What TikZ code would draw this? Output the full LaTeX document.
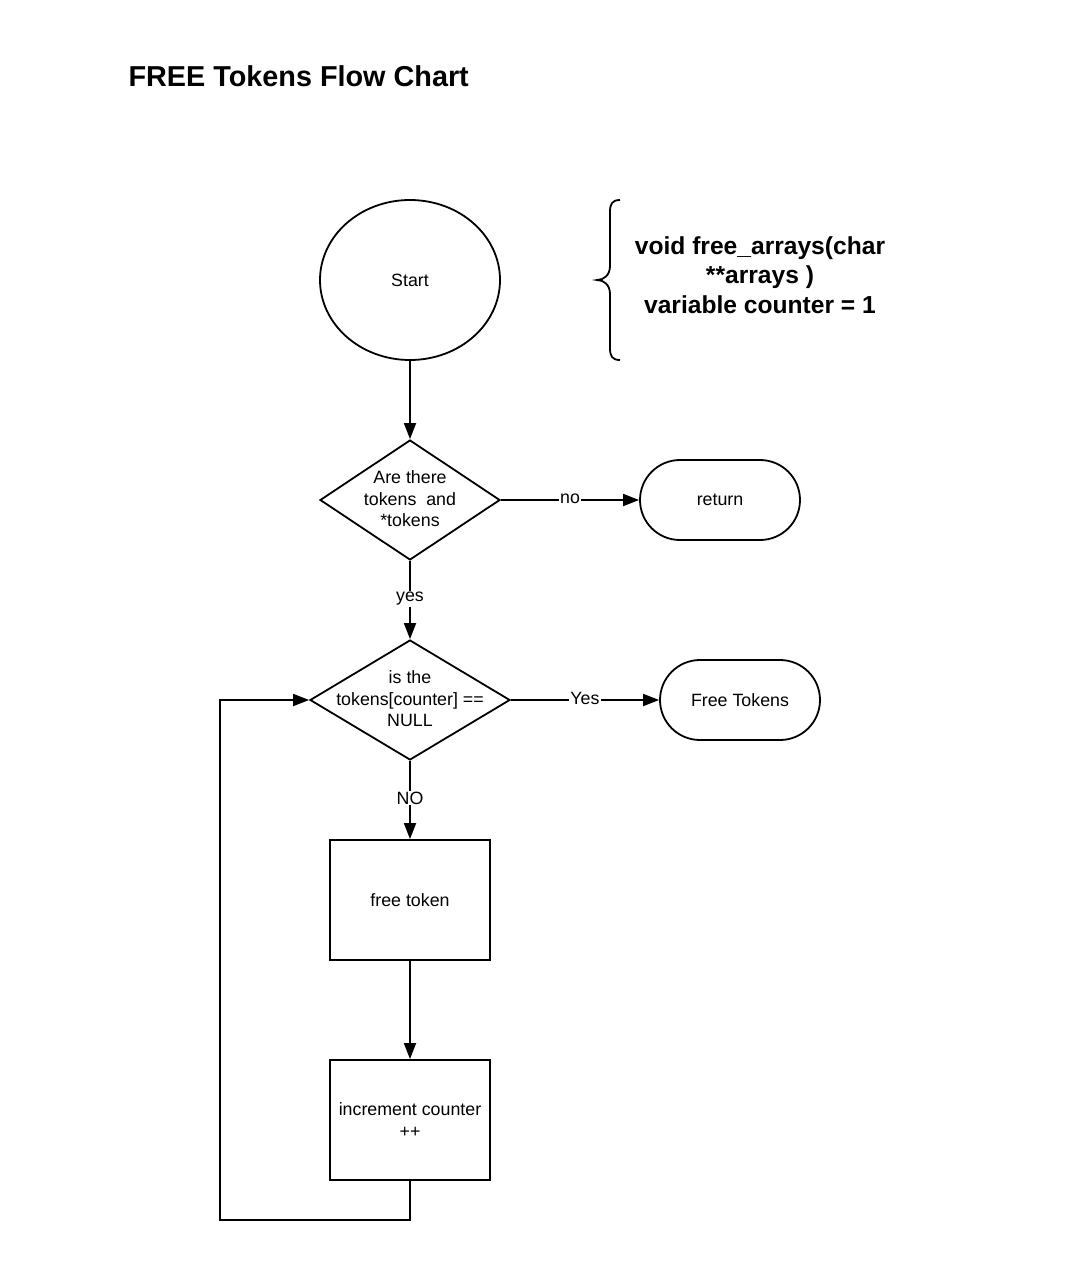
\documentclass[tikz,border=0pt]{standalone}
\usepackage{fontspec}
\setmainfont{Liberation Sans}
\usetikzlibrary{shapes.geometric,arrows.meta}
\begin{document}
\begin{tikzpicture}[x=1pt,y=-1pt,
  base/.style={draw=black,line width=1.8pt,inner sep=0pt,font=\fontsize{17.8}{21.5}\selectfont,align=center},
  ellipsenode/.style={base,ellipse,minimum width=180pt,minimum height=160pt},
  decision/.style={base,diamond,minimum width=#1,minimum height=120pt},
  terminal/.style={base,rectangle,rounded corners=40pt,minimum width=160pt,minimum height=80pt},
  process/.style={base,rectangle,minimum width=160pt,minimum height=120pt},
  arr/.style={line width=1.8pt,-{Triangle[length=16pt,width=12pt]}},
  lbl/.style={fill=white,inner sep=1pt,font=\fontsize{17.8}{21.5}\selectfont}]
\useasboundingbox[fill=white] (0,0) rectangle (1074,1285);

\node[anchor=west,font=\bfseries\fontsize{28.8}{34}\selectfont] (title) at (125,76) {FREE Tokens Flow Chart};

\node[ellipsenode] (start) at (410,280) {Start};
\node[decision=180pt,label={[align=center,font=\fontsize{17.8}{21.5}\selectfont,yshift=1pt]center:Are there\\tokens~ and\\*tokens}] (d1) at (410,500) {};
\node[terminal] (ret) at (720,500) {return};
\node[decision=200pt,label={[align=center,font=\fontsize{17.8}{21.5}\selectfont,yshift=1pt]center:is the\\tokens[counter] ==\\NULL}] (d2) at (410,700) {};
\node[terminal] (ft) at (740,700) {Free Tokens};
\node[process] (fr) at (410,900) {free token};
\node[process] (inc) at (410,1120) {increment counter\\++};

\node[align=center,font=\bfseries\fontsize{24.6}{29.5}\selectfont] (sig) at (760,275) {void free\_arrays(char\\**arrays )\\ variable counter = 1};
\draw[line width=1.8pt] (620,200) .. controls (612,200) and (610,204) .. (610,212) -- (610,266) .. controls (610,275) and (604,280) .. (597,280) .. controls (604,280) and (610,285) .. (610,294) -- (610,348) .. controls (610,356) and (612,360) .. (620,360);

\coordinate (lb) at (220,1220);
\draw[arr] (start) -- (d1);
\draw[arr] (d1) -- node[lbl,yshift=1.5pt] {no} (ret);
\draw[arr] (d1) -- node[lbl,yshift=1pt] {yes} (d2);
\draw[arr] (d2) -- node[lbl,yshift=1.5pt] {Yes} (ft);
\draw[arr] (d2) -- node[lbl,yshift=2pt] {NO} (fr);
\draw[arr] (fr) -- (inc);
\draw[arr] (inc.south) |- (lb) |- (d2.west);
\end{tikzpicture}
\end{document}
